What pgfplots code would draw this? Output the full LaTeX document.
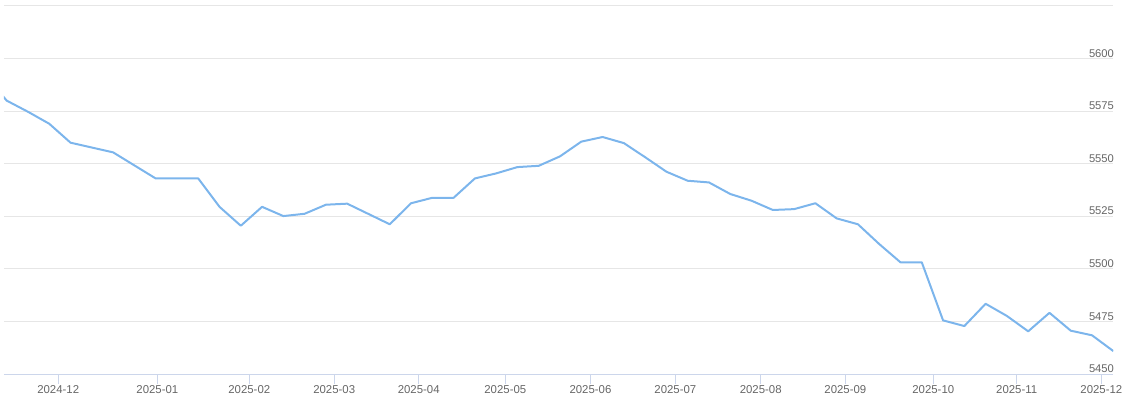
\documentclass[border=0pt]{standalone}
\usepackage{fontspec}
\setmainfont{Liberation Sans}
\usepackage{pgfplots}
\pgfplotsset{compat=1.18}
\definecolor{gridc}{HTML}{E6E6E6}
\definecolor{axisc}{HTML}{CCD6EB}
\definecolor{labc}{HTML}{666666}
\definecolor{linec}{HTML}{7CB5EC}
\begin{document}
\begin{tikzpicture}
\useasboundingbox (-2pt,-14pt) rectangle (560pt,187pt);
\begin{axis}[
  scale only axis,
  width=554.65pt, height=184pt,
  xmin=-0.127, xmax=52,
  ymin=5450, ymax=5625,
  axis x line*=bottom,
  axis y line*=right,
  y axis line style={draw=none},
  x axis line style={color=axisc, line width=0.5pt},
  ytick={5450,5475,5500,5525,5550,5575,5600,5625},
  yticklabels={5450,5475,5500,5525,5550,5575,5600,},
  ymajorgrids,
  grid style={color=gridc, line width=0.5pt},
  ytick style={draw=none},
  xtick={2.42,7.08,11.40,15.39,19.36,23.43,27.43,31.42,35.43,39.41,43.54,47.46,51.44},
  xticklabels={2024-12,2025-01,2025-02,2025-03,2025-04,2025-05,2025-06,2025-07,2025-08,2025-09,2025-10,2025-11,2025-12},
  tick align=outside,
  major tick length=5pt,
  xtick style={color=axisc, line width=0.5pt},
  yticklabel style={anchor=base east, inner sep=0pt, xshift=-4.5pt, yshift=0.7pt, font=\fontsize{5.6pt}{6pt}\selectfont, text=labc},
  xticklabel style={anchor=base, inner sep=0pt, yshift=-4.65pt, font=\fontsize{5.7pt}{6pt}\selectfont, text=labc},
  /pgf/number format/assume math mode=true,
  clip=true,
]
\addplot[color=linec, line width=1pt, line join=round, mark=none] coordinates {
(-1,5592)
(0,5580) (1,5574.7) (2,5569) (3,5560) (4,5557.7) (5,5555.4) (6,5549.2) (7,5543)
(8,5543) (9,5543) (10,5529.5) (11,5520.5) (12,5529.5) (13,5525.1) (14,5526.2)
(15,5530.5) (16,5531) (17,5526.1) (18,5521.2) (19,5531.2) (20,5533.8) (21,5533.8)
(22,5543) (23,5545.4) (24,5548.4) (25,5549) (26,5553.5) (27,5560.5) (28,5562.7)
(29,5559.8) (30,5553.1) (31,5546.2) (32,5541.9) (33,5541.1) (34,5535.6) (35,5532.4)
(36,5528) (37,5528.4) (38,5531.2) (39,5524) (40,5521.2) (41,5511.8) (42,5503.1)
(43,5503.1) (44,5475.5) (45,5472.8) (46,5483.4) (47,5477.6) (48,5470.3) (49,5479.1)
(50,5470.6) (51,5468.4) (52,5460.9)
};
\end{axis}
\end{tikzpicture}
\end{document}
